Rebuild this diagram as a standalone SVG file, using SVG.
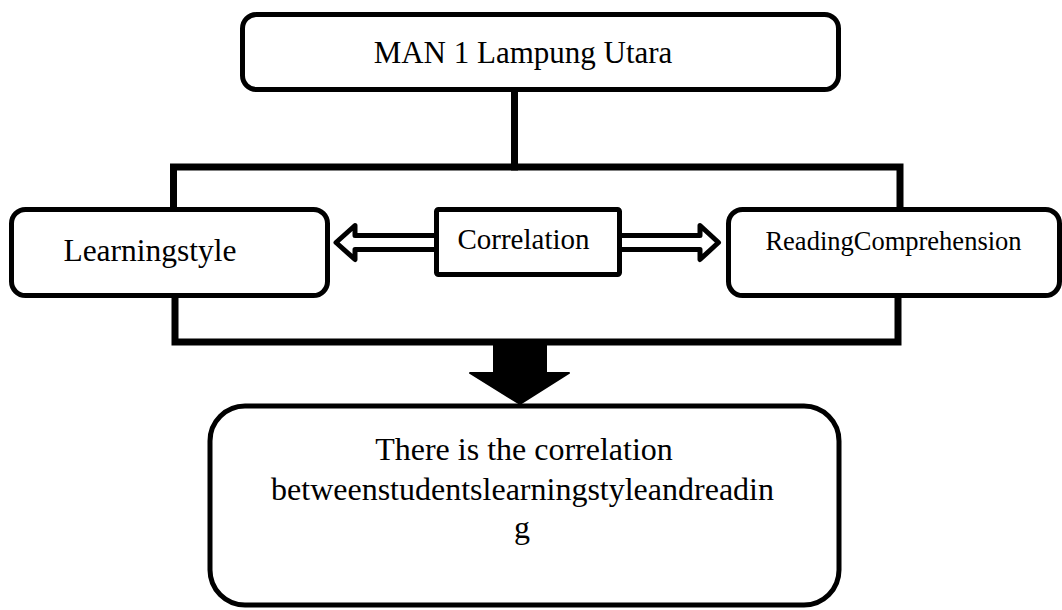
<svg xmlns="http://www.w3.org/2000/svg" width="1062" height="610" viewBox="0 0 1062 610">
<style>
  .box { fill: #fff; stroke: #000; stroke-width: 5; }
  .conn { fill: none; stroke: #000; stroke-width: 7; stroke-linejoin: miter; stroke-linecap: square; }
  .dbl { fill: #fff; stroke: #000; stroke-width: 5; stroke-linejoin: round; }
  text { font-family: "Liberation Serif", "Times New Roman", serif; fill: #000; text-anchor: middle; }
</style>
<rect width="1062" height="610" fill="#fff"/>
<g id="connectors">
  <path class="conn" d="M514.5 92 V167"/>
  <path class="conn" d="M173.5 207 V167 H900 V207"/>
  <path class="conn" d="M175 298 V342 H898 V298"/>
  <path class="dbl" d="M434 235.5 H355 V225.5 L336 242.5 L355 259.5 V249.5 H434"/>
  <path class="dbl" d="M622 235.5 H700 V225.5 L718.5 242.5 L700 259.5 V249.5 H622"/>
  <path d="M494 342 H546 V373 H569 L520 404 L470 373 H494 Z" fill="#000" stroke="#000" stroke-width="2" stroke-linejoin="round"/>
</g>
<g id="node-top">
  <rect class="box" x="242.5" y="14.5" width="596" height="75" rx="14"/>
  <text x="523" y="63" font-size="31">MAN 1 Lampung Utara</text>
</g>
<g id="node-learning">
  <rect class="box" x="11.5" y="209.5" width="316" height="86" rx="14"/>
  <text x="150" y="261" font-size="31.5">Learningstyle</text>
</g>
<g id="node-correlation">
  <rect class="box" x="436.5" y="209.5" width="183" height="65" rx="2"/>
  <text x="523.5" y="249" font-size="29">Correlation</text>
</g>
<g id="node-reading">
  <rect class="box" x="728.5" y="209.5" width="331" height="86" rx="14"/>
  <text x="893.5" y="250" font-size="26.5">ReadingComprehension</text>
</g>
<g id="node-result">
  <rect class="box" x="210" y="406" width="629" height="199" rx="35" stroke-width="6"/>
  <text x="524" y="460" font-size="32">There is the correlation</text>
  <text x="522.5" y="500" font-size="32">betweenstudentslearningstyleandreadin</text>
  <text x="522" y="538" font-size="32">g</text>
</g>
</svg>
